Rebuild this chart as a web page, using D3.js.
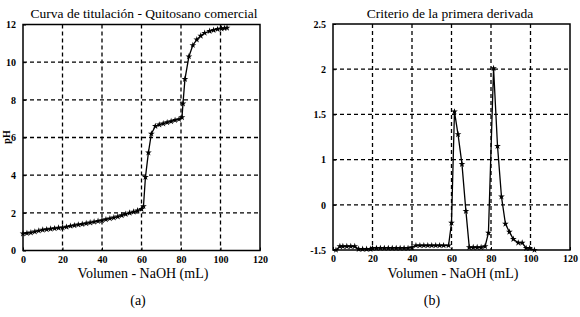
<!DOCTYPE html>
<html>
  <head>
    <style>
      body { margin: 0; background: #fff; }
      svg text { font-family: "Liberation Serif", "Times New Roman", serif; fill: #000; }
      .tick-label { font-size: 10px; font-weight: bold; }
      .title { font-size: 13.5px; text-anchor: middle; }
      .axis-label { font-size: 14px; text-anchor: middle; }
      .grid line { stroke: #000; stroke-width: 1.3; stroke-dasharray: 4,3; }
    </style>
  </head>
  <body>
    <div id="chart"></div>
    <script src="https://d3js.org/d3.v7.min.js"></script>
    <script>
      // (a) titration curve: volume (mL) and pH
      const volA = [0, 2, 4, 6, 8, 10, 12, 14, 16, 18, 20, 22, 24, 26, 28, 30, 32, 34, 36, 38, 40,
        42, 44, 46, 48, 50, 52, 54, 56, 58, 60, 61, 62, 63.5, 65, 67, 69, 71, 73, 75, 77, 79, 80.5, 81,
        82, 84, 86, 88, 90, 92, 94.5, 96.5, 98.5, 100.5, 102, 103.3];
      const phA = [0.9, 0.92, 0.95, 1.0, 1.05, 1.1, 1.12, 1.15, 1.17, 1.2, 1.22, 1.25, 1.3, 1.33, 1.37, 1.4, 1.44, 1.48, 1.52, 1.56, 1.6,
        1.65, 1.7, 1.75, 1.8, 1.87, 1.93, 2.0, 2.05, 2.12, 2.2, 2.35, 3.9, 5.2, 6.2, 6.6, 6.68, 6.74, 6.8, 6.86, 6.92, 6.97, 7.07, 7.8,
        9.1, 10.3, 10.9, 11.2, 11.4, 11.55, 11.65, 11.7, 11.75, 11.78, 11.8, 11.82];

      // (b) first derivative (plotted on the equally spaced tick positions of the original axis)
      const volB = [1.5, 3.5, 5, 7, 9, 11, 13, 15, 17, 19, 20, 22, 24, 26, 28, 30, 32, 34, 36, 38, 40,
        42, 44, 46, 48, 50, 52, 54, 56, 58.5, 60, 61.5, 63.3, 65.3, 67.3, 69, 71, 73, 75, 77, 78.7, 81.3,
        83.3, 85.3, 87.3, 89.3, 91.3, 93.8, 95.8, 97.8, 99.6, 102];
      const derB = [0.0, 0.04, 0.04, 0.04, 0.04, 0.04, 0.01, 0.01, 0.01, 0.01, 0.02, 0.02, 0.02, 0.02, 0.02, 0.02, 0.02, 0.02, 0.02, 0.02, 0.03,
        0.05, 0.05, 0.05, 0.05, 0.05, 0.05, 0.05, 0.05, 0.05, 0.3, 1.53, 1.28, 0.95, 0.43, 0.03, 0.03, 0.03, 0.03, 0.04, 0.19, 2.01,
        1.15, 0.59, 0.29, 0.2, 0.12, 0.08, 0.08, 0.02, 0.02, 0.0];

      const xTicks = [0, 20, 40, 60, 80, 100, 120];
      const yTicksA = [0, 2, 4, 6, 8, 10, 12];
      const yTicksB = [0, 0.5, 1, 1.5, 2, 2.5];
      const yLabelsB = ["-1.5", "0", "1", "1.5", "2", "2.5"];

      const svg = d3.select("#chart").append("svg")
        .attr("width", 580).attr("height", 317);

      function panel(opt) {
        const x = d3.scaleLinear().domain([0, 120]).range([opt.left, opt.right]);
        const y = d3.scaleLinear().domain(opt.yDomain).range([opt.bottom, opt.top]);
        const g = svg.append("g");

        // grid
        const grid = g.append("g").attr("class", "grid");
        grid.selectAll(".gx").data(xTicks.slice(1, -1)).enter().append("line")
          .attr("x1", d => x(d)).attr("x2", d => x(d))
          .attr("y1", opt.top).attr("y2", opt.bottom);
        grid.selectAll(".gy").data(opt.yTicks.slice(1, -1)).enter().append("line")
          .attr("y1", d => y(d)).attr("y2", d => y(d))
          .attr("x1", opt.left).attr("x2", opt.right);

        // frame
        g.append("rect")
          .attr("x", opt.left).attr("y", opt.top)
          .attr("width", opt.right - opt.left).attr("height", opt.bottom - opt.top)
          .attr("fill", "none").attr("stroke", "#000").attr("stroke-width", 1.5);

        // axes
        const xAxis = g.append("g").attr("transform", "translate(0," + opt.bottom + ")")
          .call(d3.axisBottom(x).tickValues(xTicks).tickSize(-3).tickPadding(5));
        const yAxis = g.append("g").attr("transform", "translate(" + opt.left + ",0)")
          .call(d3.axisLeft(y).tickValues(opt.yTicks).tickSize(-3).tickPadding(7)
            .tickFormat(opt.yFormat));
        [xAxis, yAxis].forEach(a => {
          a.attr("font-family", null).attr("font-size", null);
          a.select(".domain").remove();
          a.selectAll("line").attr("stroke", "#000");
          a.selectAll("text").attr("class", "tick-label");
        });

        // line + markers
        const pts = opt.xs.map((v, i) => [v, opt.ys[i]]);
        g.append("path").datum(pts)
          .attr("fill", "none").attr("stroke", "#000").attr("stroke-width", 1.3)
          .attr("d", d3.line().x(d => x(d[0])).y(d => y(d[1])));
        g.selectAll(".m").data(pts).enter().append("path")
          .attr("transform", d => "translate(" + x(d[0]) + "," + y(d[1]) + ")")
          .attr("d", d3.symbol().type(d3.symbolStar).size(14))
          .attr("fill", "#000");

        // texts
        g.append("text").attr("class", "title")
          .attr("x", opt.titleX).attr("y", 18).text(opt.title);
        g.append("text").attr("class", "axis-label")
          .attr("x", opt.labX).attr("y", 278)
          .text("Volumen - NaOH (mL)");
        g.append("text").attr("class", "axis-label")
          .attr("x", opt.capX).attr("y", 305).text(opt.caption);
        return g;
      }

      const gA = panel({
        left: 23, right: 260, top: 24.5, bottom: 250.5,
        yDomain: [0, 12], yTicks: yTicksA, yFormat: d3.format("d"),
        xs: volA, ys: phA,
        title: "Curva de titulación -  Quitosano comercial", titleX: 144,
        labX: 143, caption: "(a)", capX: 138
      });
      gA.append("text").attr("class", "tick-label")
        .attr("transform", "translate(10,137) rotate(-90)")
        .attr("text-anchor", "middle").text("pH");

      panel({
        left: 333, right: 570, top: 24, bottom: 250,
        yDomain: [0, 2.5], yTicks: yTicksB, yFormat: (d, i) => yLabelsB[i],
        xs: volB, ys: derB,
        title: "Criterio de la primera derivada", titleX: 450,
        labX: 453, caption: "(b)", capX: 432
      });
    </script>
  </body>
</html>
